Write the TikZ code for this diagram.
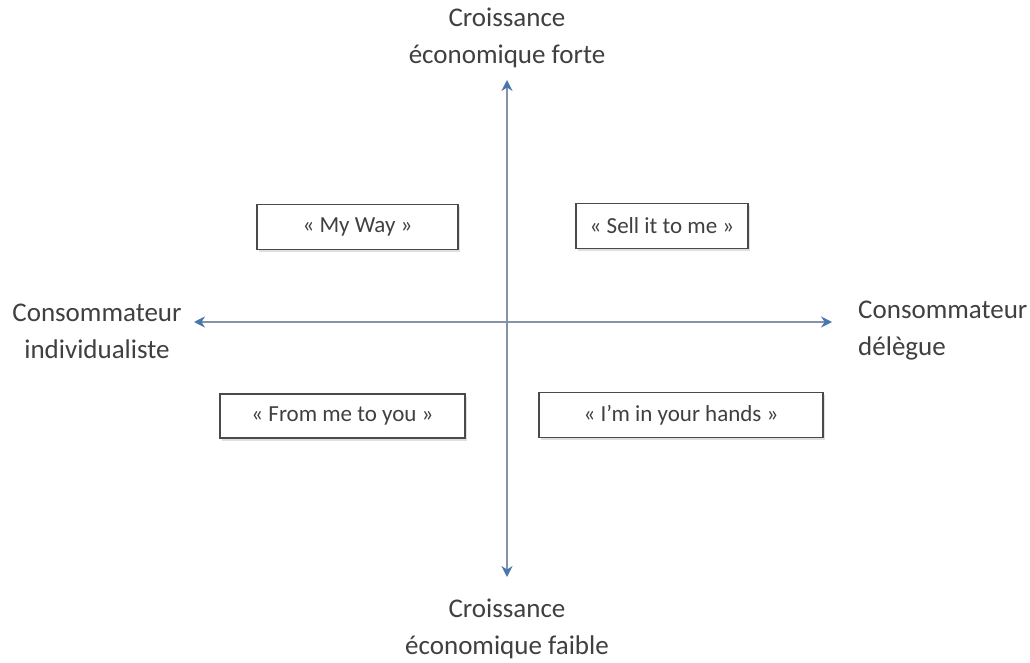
\documentclass[tikz,border=0pt]{standalone}
\usepackage{fontspec}
\setmainfont{Carlito}
\usetikzlibrary{arrows.meta,shadows}
\definecolor{txt}{HTML}{404040}
\definecolor{axisline}{HTML}{8593A8}
\definecolor{axishead}{HTML}{4A76B0}
\definecolor{boxline}{HTML}{4A4A4A}
\tikzset{
  axislabel/.style={text=txt, font=\fontsize{27}{37}\selectfont, inner sep=0pt},
  quadbox/.style={draw=boxline, line width=1.8pt, fill=white, text=txt,
    font=\fontsize{23}{28}\selectfont, inner sep=0pt,
    drop shadow={opacity=0.25, shadow xshift=1.5pt, shadow yshift=-2.5pt}},
  axisarrow/.style={draw=axisline, line width=2.2pt,
    {Stealth[length=11pt,width=11pt,color=axishead]}-{Stealth[length=11pt,width=11pt,color=axishead]}}
}
\begin{document}
\begin{tikzpicture}[x=1pt,y=-1pt]
  \useasboundingbox[fill=white] (0,0) rectangle (1030,663);

  % axis end points
  \coordinate (N) at (507,80);
  \coordinate (S) at (507,577);
  \coordinate (W) at (194,322);
  \coordinate (E) at (832,322);

  \draw[axisarrow] (S) -- (N);
  \draw[axisarrow] (W) -- (E);

  % axis labels
  \node[axislabel, align=center] (top) at (507,38) {Croissance\\économique forte};
  \node[axislabel, align=center] (bottom) at (507,629) {Croissance\\économique faible};
  \node[axislabel, align=center] (left) at (97,331) {Consommateur\\individualiste};
  \node[axislabel, align=left, anchor=west] (right) at (858,331) {Consommateur\\délègue};

  % scenario boxes
  \node[quadbox, minimum width=201pt, minimum height=45pt] (myway) at (357.5,227) {« My Way »};
  \node[quadbox, minimum width=172pt, minimum height=45pt] (sell) at (662,226) {« Sell it to me »};
  \node[quadbox, minimum width=245pt, minimum height=44pt] (from) at (342.5,416) {« From me to you »};
  \node[quadbox, minimum width=284pt, minimum height=45pt] (hands) at (681,415) {« I’m in your hands »};
\end{tikzpicture}
\end{document}
